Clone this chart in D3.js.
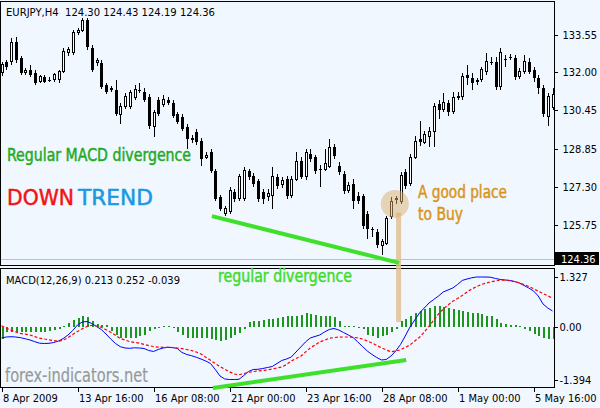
<!DOCTYPE html>
<html><head><meta charset="utf-8">
<script src="https://cdn.jsdelivr.net/npm/d3@7"></script>
<style>html,body{margin:0;padding:0;background:#f0f7ff;} svg{display:block;}</style>
</head><body><svg id="c" width="600" height="408"></svg>
<script>
// ---- data (EURJPY H4, MACD 12,26,9) ----
const barOpen=[131.98,132.43,132.43,133.24,132.59,131.98,132.10,131.98,131.62,131.82,
131.70,131.70,131.70,132.02,132.80,132.80,133.65,133.73,134.14,133.00,
132.39,132.39,131.49,131.29,131.29,130.27,130.60,130.60,130.96,131.29,
131.21,131.00,129.78,130.88,130.68,130.88,130.76,130.27,130.15,129.74,
129.25,129.54,129.17,128.52,128.72,127.95,126.89,126.20,126.28,127.10,
126.81,126.81,127.95,127.75,127.54,127.10,126.89,126.93,127.71,127.38,
127.62,126.93,127.62,128.36,127.71,128.64,128.52,128.03,128.03,128.15,
128.93,128.15,127.83,127.14,127.42,126.93,126.93,126.20,125.55,125.46,
124.90,124.98,126.08,126.77,126.69,127.91,127.42,128.52,129.25,129.13,
129.38,129.58,130.68,130.47,130.76,130.39,130.96,131.00,131.90,131.78,
131.62,131.70,132.02,132.43,132.43,131.41,132.55,132.63,132.59,131.82,
132.02,132.43,132.10,131.78,131.37,130.19,130.56];
const barHigh=[132.43,132.51,133.41,133.45,132.68,132.19,132.31,132.10,131.90,131.90,
131.82,131.98,132.10,133.00,133.04,133.73,133.81,134.22,134.22,133.12,
132.59,132.51,131.58,131.45,131.70,130.72,131.13,131.29,131.49,131.54,
131.37,131.09,130.47,131.00,131.05,131.00,130.88,130.39,130.27,129.86,
129.42,129.66,129.29,128.72,128.85,128.03,126.97,126.52,127.30,127.22,
127.83,128.11,128.03,127.87,127.62,127.22,127.22,128.11,127.83,127.71,
127.75,127.75,128.72,128.52,128.85,128.85,128.60,128.19,128.85,129.25,
129.05,128.32,127.95,127.50,127.62,127.10,127.01,126.32,125.67,125.59,
125.18,126.12,126.89,126.93,127.91,128.03,128.64,129.38,129.99,129.58,
129.74,130.72,130.88,131.17,130.88,131.21,131.21,131.98,132.31,131.98,
131.78,132.23,132.80,132.63,132.63,133.00,132.72,132.76,132.72,132.19,
132.72,132.59,132.23,131.90,131.49,131.17,131.37];
const barLow=[131.86,132.10,132.31,132.39,131.90,131.90,131.82,131.49,131.54,131.54,
131.62,131.62,131.58,131.98,132.68,132.72,133.53,133.65,132.92,132.02,
132.27,131.33,131.09,131.21,130.19,129.86,130.51,130.51,130.88,131.17,
130.80,129.66,129.33,130.19,130.56,130.64,130.11,129.86,129.58,128.85,
129.09,129.01,128.15,128.44,127.87,126.73,126.32,126.12,126.20,126.69,
126.73,126.73,127.58,127.30,126.69,126.61,126.73,126.40,127.22,127.26,
126.81,126.85,127.54,127.62,127.58,128.32,127.83,127.30,127.95,128.07,
128.44,127.79,127.01,127.05,126.40,126.61,125.59,125.18,125.26,124.81,
124.49,124.90,125.99,126.61,126.61,127.22,127.34,128.44,128.97,129.05,
128.93,128.93,130.07,130.39,130.19,130.27,130.88,130.88,131.49,131.29,
131.49,131.62,131.90,132.31,131.29,131.29,132.23,132.51,131.70,131.74,
131.94,131.94,131.62,131.09,130.15,129.78,130.47];
const barClose=[132.31,132.23,133.24,132.51,131.98,132.06,131.90,131.58,131.82,131.62,
131.66,131.90,132.02,132.84,132.92,133.65,133.73,134.14,133.04,132.10,
132.47,131.41,131.21,131.33,130.27,130.60,131.00,131.17,131.29,131.25,
130.88,129.78,130.35,130.27,130.88,130.76,130.19,129.94,129.66,129.25,
129.29,129.13,128.44,128.60,127.95,126.81,126.40,126.40,127.14,126.81,
127.71,127.95,127.71,127.42,126.81,126.81,127.01,127.71,127.34,127.54,
126.93,127.62,128.36,127.71,128.72,128.44,127.95,127.99,128.24,128.93,
128.56,127.91,127.14,127.34,126.73,126.73,125.71,125.59,125.51,124.90,
125.06,125.99,126.69,126.81,127.75,127.34,128.52,129.17,129.13,129.46,
129.58,130.60,130.47,130.76,130.39,130.96,131.00,131.82,131.78,131.58,
131.66,132.10,132.43,132.39,131.41,132.80,132.51,132.59,131.82,132.02,
132.43,132.02,131.78,131.37,130.27,131.00,131.09];
const macdMain=[-0.292,-0.266,-0.258,-0.266,-0.284,-0.313,-0.345,-0.390,-0.430,-0.438,
-0.433,-0.412,-0.372,-0.305,-0.212,-0.093,0.053,0.133,0.146,0.093,
0.013,-0.066,-0.186,-0.319,-0.438,-0.523,-0.558,-0.566,-0.552,-0.558,
-0.571,-0.624,-0.650,-0.597,-0.558,-0.539,-0.544,-0.571,-0.677,-0.730,
-0.762,-0.804,-0.850,-0.903,-0.969,-1.128,-1.301,-1.380,-1.394,-1.394,
-1.389,-1.288,-1.181,-1.128,-1.123,-1.102,-1.075,-1.049,-0.969,-0.889,
-0.850,-0.797,-0.664,-0.531,-0.398,-0.292,-0.252,-0.212,-0.133,-0.066,
-0.040,-0.080,-0.146,-0.212,-0.279,-0.398,-0.518,-0.637,-0.730,-0.810,
-0.876,-0.863,-0.770,-0.637,-0.465,-0.239,0.000,0.186,0.372,0.504,
0.637,0.730,0.823,0.929,0.982,1.035,1.128,1.235,1.274,1.306,
1.327,1.327,1.327,1.320,1.288,1.261,1.248,1.235,1.208,1.168,
1.102,1.035,0.956,0.823,0.611,0.504,0.425];
const macdSignal=[0.035,-0.027,-0.088,-0.133,-0.170,-0.191,-0.212,-0.255,-0.297,-0.319,
-0.340,-0.361,-0.382,-0.345,-0.284,-0.199,-0.119,-0.048,0.013,0.045,
0.027,-0.008,-0.072,-0.138,-0.220,-0.303,-0.345,-0.388,-0.409,-0.430,
-0.462,-0.496,-0.518,-0.534,-0.539,-0.539,-0.547,-0.558,-0.573,-0.597,
-0.624,-0.664,-0.717,-0.802,-0.884,-0.969,-1.054,-1.120,-1.189,-1.248,
-1.269,-1.235,-1.203,-1.184,-1.168,-1.155,-1.142,-1.115,-1.089,-1.062,
-0.996,-0.903,-0.836,-0.778,-0.664,-0.558,-0.478,-0.398,-0.350,-0.300,
-0.281,-0.268,-0.266,-0.266,-0.273,-0.287,-0.319,-0.372,-0.425,-0.489,
-0.552,-0.611,-0.658,-0.637,-0.605,-0.539,-0.478,-0.372,-0.273,-0.133,
0.019,0.186,0.345,0.478,0.584,0.682,0.757,0.836,0.929,1.009,
1.070,1.128,1.163,1.200,1.221,1.248,1.240,1.229,1.200,1.174,
1.128,1.075,1.017,0.950,0.889,0.828,0.762];
const macdHist=[-0.33,-0.14,-0.13,-0.12,-0.12,-0.13,-0.14,-0.14,-0.14,-0.13,
-0.10,-0.08,-0.05,0.02,0.10,0.18,0.24,0.30,0.27,0.15,
0.08,0.06,0.04,-0.10,-0.22,-0.28,-0.30,-0.30,-0.28,-0.25,
-0.20,-0.10,-0.05,-0.03,0.02,0.02,-0.02,-0.12,-0.22,-0.28,
-0.30,-0.30,-0.30,-0.30,-0.32,-0.34,-0.36,-0.34,-0.28,-0.22,
-0.15,-0.06,0.12,0.15,0.17,0.19,0.20,0.22,0.24,0.26,
0.28,0.30,0.30,0.32,0.36,0.34,0.32,0.30,0.30,0.30,
0.26,0.15,0.03,0.03,0.02,-0.02,-0.06,-0.20,-0.25,-0.28,
-0.25,-0.20,-0.12,-0.05,0.16,0.20,0.30,0.37,0.42,0.48,
0.50,0.56,0.56,0.54,0.50,0.48,0.46,0.42,0.40,0.38,
0.36,0.34,0.30,0.28,0.20,0.10,0.07,0.05,0.04,0.02,
-0.05,-0.10,-0.18,-0.24,-0.30,-0.33,-0.33];
const priceTicks=[133.55,132.00,130.45,128.85,127.30,125.75];
const bidPrice=124.36;
const macdTicks=[1.327,0,-1.394];
const macdTickLabels=["1.327","0.00","-1.394"];
const timeTickBars=[0,16,32,48,64,80,96,112];
const timeTickLabels=["8 Apr 2009","13 Apr 16:00","16 Apr 08:00","21 Apr 00:00","23 Apr 16:00","28 Apr 08:00","1 May 00:00","5 May 16:00"];
const headerText="EURJPY,H4  124.30 124.43 124.19 124.36";
const macdText="MACD(12,26,9) 0.213 0.252 -0.039";
// annotation anchors in data space: [bar index, value]
const priceDivLine=[[44.3,126.10],[83.7,124.18]];
const macdDivLine=[[44.5,-1.62],[85.2,-0.876]];
const buyPoint=[82.8,126.60];
const buyLine=[[83.6,126.24],[83.6,0.13]];

// ---- layout ----
const svg=d3.select("#c");
const bg="#f0f7ff";
svg.append("rect").attr("width",600).attr("height",408).attr("fill",bg);
const FONT="'DejaVu Sans Condensed','DejaVu Sans',sans-serif";
const mainP={x0:0.5,x1:554.5,y0:1.5,y1:265.5};
const macdP={x0:0.5,x1:554.5,y0:268.5,y1:387.5};

const x=d3.scaleLinear().domain([0,16]).range([1.5,77.5]);
const y=d3.scaleLinear().domain([124.36,133.55]).range([258.5,34.5]);
const ym=d3.scaleLinear().domain([-1.394,1.327]).range([379.5,277]);

const defs=svg.append("defs");
defs.append("clipPath").attr("id","cm").append("rect").attr("x",1).attr("y",2).attr("width",553).attr("height",263);
defs.append("clipPath").attr("id","cd").append("rect").attr("x",1).attr("y",269).attr("width",553).attr("height",118);

// bid line
svg.append("line").attr("x1",1).attr("x2",554).attr("y1",Math.round(y(bidPrice))+0.5).attr("y2",Math.round(y(bidPrice))+0.5)
  .attr("stroke","#c0c0c0").attr("stroke-width",1);

// candles
const idx=d3.range(barOpen.length);
const gC=svg.append("g").attr("clip-path","url(#cm)").attr("shape-rendering","crispEdges");
gC.selectAll("line.w").data(idx).join("line")
  .attr("x1",i=>Math.round(x(i))+0.5).attr("x2",i=>Math.round(x(i))+0.5)
  .attr("y1",i=>y(barHigh[i])).attr("y2",i=>y(barLow[i]))
  .attr("stroke","#000").attr("stroke-width",1);
gC.selectAll("rect.b").data(idx).join("rect")
  .attr("x",i=>barClose[i]>=barOpen[i]?Math.round(x(i))-0.5:Math.round(x(i))-1)
  .attr("width",i=>barClose[i]>=barOpen[i]?2:3)
  .attr("y",i=>y(Math.max(barOpen[i],barClose[i])))
  .attr("height",i=>Math.max(1,Math.abs(y(barOpen[i])-y(barClose[i]))))
  .attr("fill",i=>barClose[i]>=barOpen[i]?"#fff":"#000")
  .attr("stroke",i=>barClose[i]>=barOpen[i]?"#000":"none")
  .attr("stroke-width",1);

// MACD
const gM=svg.append("g").attr("clip-path","url(#cd)");
gM.append("g").attr("shape-rendering","crispEdges").selectAll("rect").data(idx).join("rect")
  .attr("x",i=>Math.round(x(i))-0.5).attr("width",2)
  .attr("y",i=>Math.min(ym(0),ym(macdHist[i])))
  .attr("height",i=>Math.max(1,Math.abs(ym(macdHist[i])-ym(0))))
  .attr("fill","#1e961e");
gM.append("path").datum(idx).attr("fill","none").attr("stroke","#0000ff").attr("stroke-width",1)
  .attr("d",d3.line().x(i=>x(i)).y(i=>ym(macdMain[i])));
gM.append("path").datum(idx).attr("fill","none").attr("stroke","#ff0000").attr("stroke-width",1.2)
  .attr("stroke-dasharray","3,2")
  .attr("d",d3.line().x(i=>x(i)).y(i=>ym(macdSignal[i])));

// frames
[mainP,macdP].forEach(p=>{
  svg.append("rect").attr("x",p.x0).attr("y",p.y0).attr("width",p.x1-p.x0).attr("height",p.y1-p.y0)
    .attr("fill","none").attr("stroke","#000").attr("stroke-width",1).attr("shape-rendering","crispEdges");
});

// axes
function styleAxis(g){
  g.select(".domain").remove();
  g.selectAll("text").attr("font-family",FONT).attr("font-size",11).attr("fill","#000");
  g.selectAll("line").attr("stroke","#000").attr("shape-rendering","crispEdges");
}
svg.append("g").attr("transform","translate(554.5,0)")
  .call(d3.axisRight(y).tickValues(priceTicks).tickSize(3).tickPadding(5).tickFormat(d3.format(".2f")))
  .call(styleAxis);
svg.append("g").attr("transform","translate(554.5,0)")
  .call(d3.axisRight(ym).tickValues(macdTicks).tickSize(3).tickPadding(2).tickFormat((d,i)=>macdTickLabels[i]))
  .call(styleAxis);
svg.append("g").attr("transform","translate(0,387.5)")
  .call(d3.axisBottom(x).tickValues(timeTickBars).tickSize(4).tickPadding(3).tickFormat((d,i)=>timeTickLabels[i]))
  .call(styleAxis)
  .call(g=>g.selectAll("text").attr("text-anchor","start").attr("dx","1px"));

// bid label
const by=y(bidPrice);
svg.append("rect").attr("x",555).attr("y",by-6.5).attr("width",44).attr("height",13).attr("fill","#000");
svg.append("text").attr("x",561).attr("y",by+4).text(bidPrice.toFixed(2))
  .attr("font-family",FONT).attr("font-size",11).attr("fill","#fff");

// header texts
svg.append("text").attr("x",6).attr("y",16).attr("xml:space","preserve").text(headerText)
  .attr("font-family",FONT).attr("font-size",11).attr("fill","#000").attr("textLength",209).attr("lengthAdjust","spacingAndGlyphs");
svg.append("text").attr("x",6).attr("y",284).text(macdText)
  .attr("font-family",FONT).attr("font-size",11).attr("fill","#000").attr("textLength",174).attr("lengthAdjust","spacingAndGlyphs");

// annotations
const gA=svg.append("g");
gA.append("line").attr("x1",x(buyLine[0][0])).attr("x2",x(buyLine[1][0]))
  .attr("y1",y(buyLine[0][1])).attr("y2",ym(buyLine[1][1]))
  .attr("stroke","#e2c193").attr("stroke-width",5).attr("opacity",0.85);
gA.append("circle").attr("cx",x(buyPoint[0])).attr("cy",y(buyPoint[1])).attr("r",14)
  .attr("fill","#dcae6c").attr("opacity",0.5);
gA.append("line").attr("x1",x(priceDivLine[0][0])).attr("y1",y(priceDivLine[0][1]))
  .attr("x2",x(priceDivLine[1][0])).attr("y2",y(priceDivLine[1][1]))
  .attr("stroke","#3fe02a").attr("stroke-width",4).attr("stroke-linecap","butt");
gA.append("line").attr("x1",x(macdDivLine[0][0])).attr("y1",ym(macdDivLine[0][1]))
  .attr("x2",x(macdDivLine[1][0])).attr("y2",ym(macdDivLine[1][1]))
  .attr("stroke","#3fe02a").attr("stroke-width",4).attr("stroke-linecap","butt");

function label(txt,xx,yy,size,color,len){
  const t=gA.append("text").attr("x",xx).attr("y",yy).text(txt)
    .attr("font-family",FONT).attr("font-size",size).attr("fill",color)
    .attr("stroke",color).attr("stroke-width",0.45);
  if(len) t.attr("textLength",len).attr("lengthAdjust","spacingAndGlyphs");
  return t;
}
label("Regular MACD divergence",7,161,17,"#1faa1f",184);
label("DOWN",7,205,21,"#f01414",67);
label("TREND",78,205,21,"#1a98e0",75);
label("A good place",418,198,17,"#db9416",89);
label("to Buy",418,220,17,"#db9416",45);
label("regular divergence",218,282,17,"#3fdc2c",134);
label("forex-indicators.net",5,382,20,"#999999",143).attr("stroke-width",0.2);
</script></body></html>
